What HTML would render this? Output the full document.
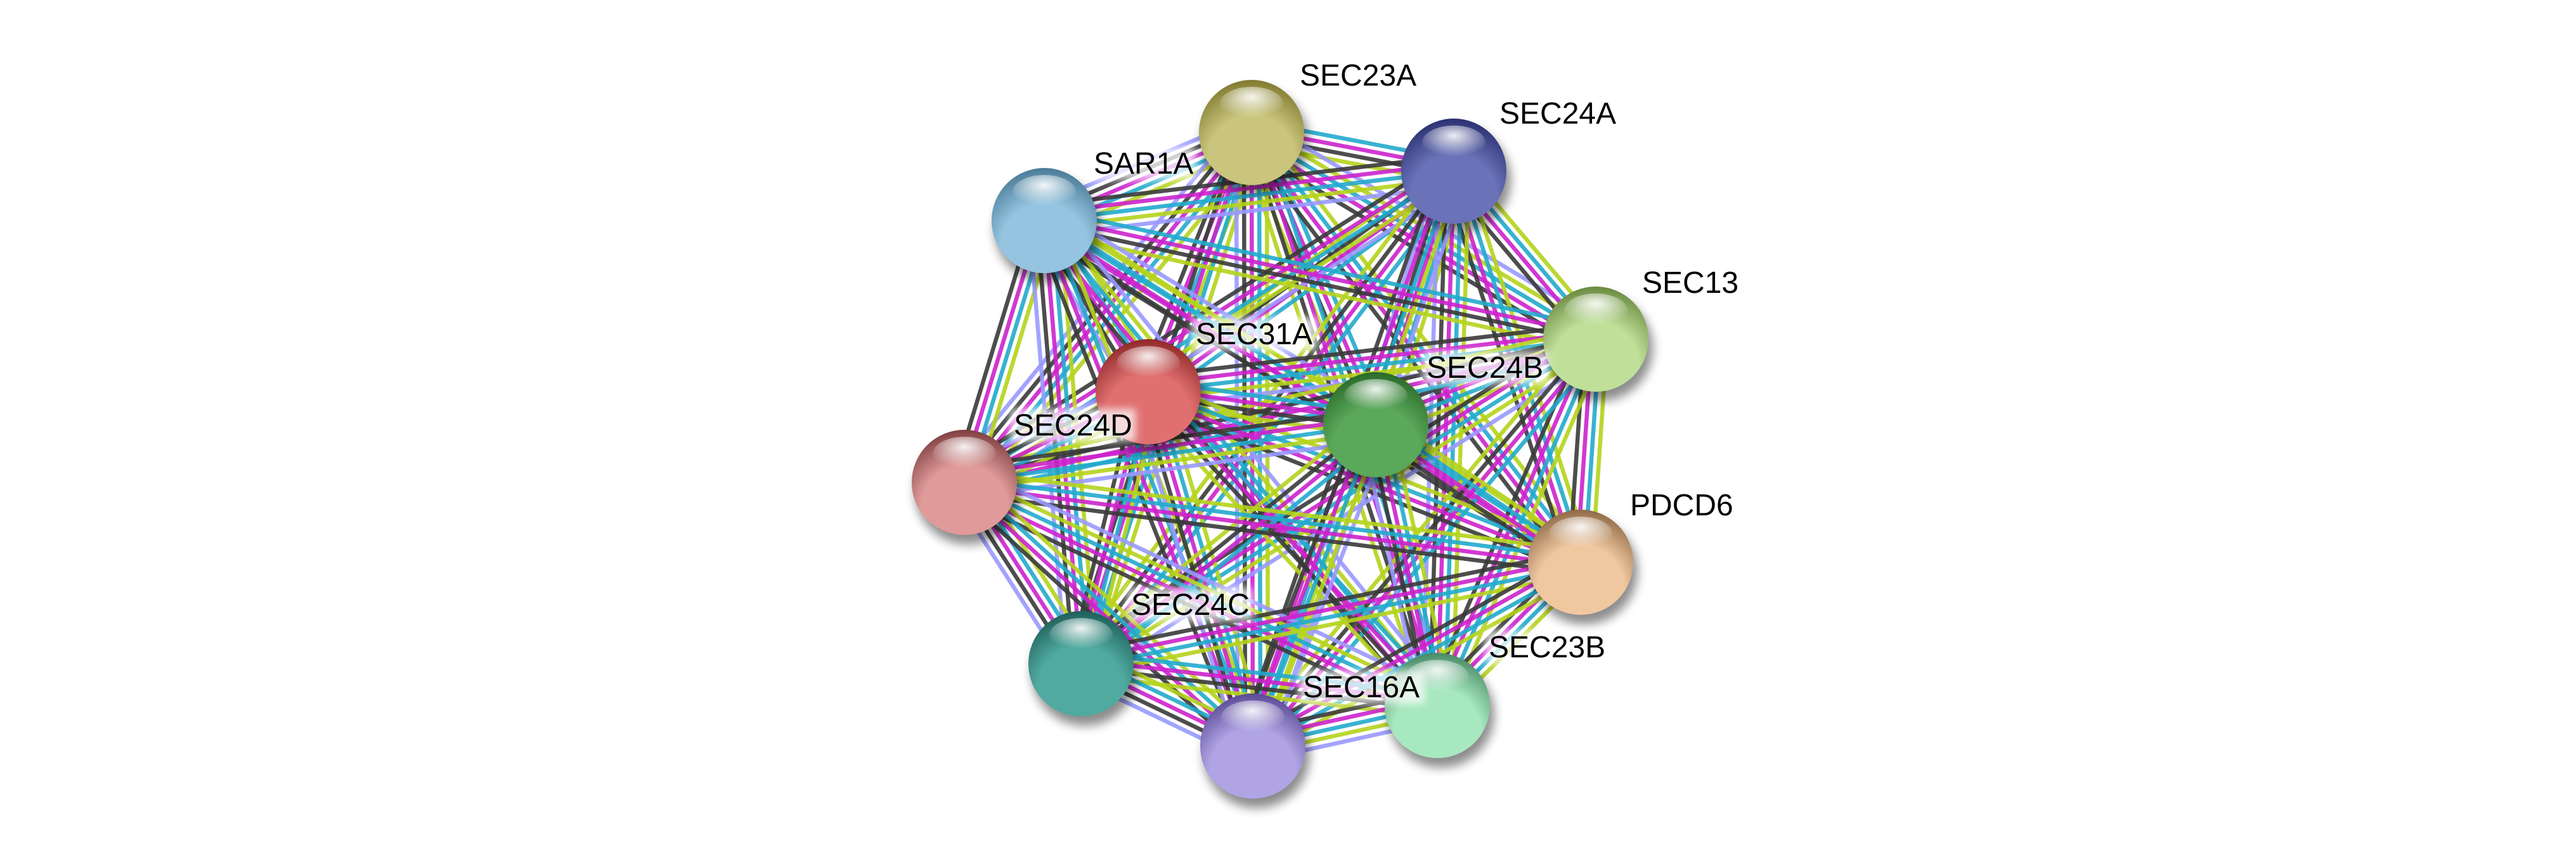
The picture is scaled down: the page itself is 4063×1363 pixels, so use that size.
<!DOCTYPE html>
<html><head><meta charset="utf-8"><style>
html,body{margin:0;padding:0;background:#fff;width:4063px;height:1363px;overflow:hidden}
svg{display:block}
text{font-family:"Liberation Sans",sans-serif;font-size:48px;fill:#000}
</style></head><body>
<svg id="s" width="4063" height="1363" xmlns="http://www.w3.org/2000/svg">
<defs>
<filter id="sh" x="-30%" y="-30%" width="170%" height="170%"><feGaussianBlur stdDeviation="8"/></filter>
<radialGradient id="hl" cx="50%" cy="30%" r="60%"><stop offset="0" stop-color="#fff" stop-opacity="0.9"/><stop offset="1" stop-color="#fff" stop-opacity="0"/></radialGradient>
<filter id="halo" x="-10%" y="-30%" width="120%" height="160%"><feGaussianBlur stdDeviation="6"/></filter>
</defs>
<g id="edges"></g>
<g id="nodes"></g>
<g id="labels"></g>
</svg>
<script>
var N={
SEC23A:[1974,209,'#c9c57c','#807a30'],
SEC24A:[2293,270,'#6a72b8','#2a3070'],
SAR1A:[1647,348,'#94c4e0','#4a7a96'],
SEC13:[2517,535,'#c0e09a','#6a8a40'],
SEC31A:[1811,618,'#e07070','#902828'],
SEC24B:[2170,670,'#5aa85a','#2a6a2a'],
SEC24D:[1521,761,'#e09a9a','#804040'],
PDCD6:[2493,887,'#f0c8a0','#906a48'],
SEC24C:[1705,1047,'#50aaa0','#1e605a'],
SEC23B:[2267,1113,'#a8e8c0','#4a8a66'],
SEC16A:[1976,1177,'#b0a4e4','#5a4a96']};
var L={SEC23A:[2050,135],SEC24A:[2365,195],SAR1A:[1725,274],SEC13:[2590,462],SEC31A:[1886,543],SEC24B:[2250,596],SEC24D:[1599,687],PDCD6:[2571,813],SEC24C:[1784,970],SEC23B:[2348,1037],SEC16A:[2055,1100]};
var C={y:'#b5d31c',c:'#22aacc',m:'#cc22cc',k:'#3a3a3a',l:'#9999ff'};
var names=Object.keys(N);
var ns='http://www.w3.org/2000/svg';
var E=document.getElementById('edges');
var sets=[['y','c','m','k'],['l','y','c','m','k'],['y','c','m','k','l'],['c','m','k','y']];
var h=0;
for(var i=0;i<names.length;i++)for(var j=i+1;j<names.length;j++){
 var a=N[names[i]],b=N[names[j]];
 h=(i*7+j*3)%4;
 var cols=sets[h];
 if(names[i]=='PDCD6'||names[j]=='PDCD6')cols=['y','c','m','k'];
 var dx=b[0]-a[0],dy=b[1]-a[1],len=Math.hypot(dx,dy),px=-dy/len,py=dx/len;
 var n=cols.length,sp=12;
 for(var k=0;k<n;k++){
  var o=(k-(n-1)/2)*sp;
  var l=document.createElementNS(ns,'line');
  l.setAttribute('x1',a[0]+px*o);l.setAttribute('y1',a[1]+py*o);
  l.setAttribute('x2',b[0]+px*o);l.setAttribute('y2',b[1]+py*o);
  l.setAttribute('stroke',C[cols[k]]);l.setAttribute('stroke-width',6.5);
  l.setAttribute('stroke-opacity',0.9);
  E.appendChild(l);
 }
}
var G=document.getElementById('nodes'),defs=document.querySelector('defs');
names.forEach(function(nm,i){
 var d=N[nm];
 var g=document.createElementNS(ns,'radialGradient');g.id='g'+i;
 g.setAttribute('cx','50%');g.setAttribute('cy','75%');g.setAttribute('r','75%');
 g.innerHTML='<stop offset="0" stop-color="'+d[2]+'"/><stop offset="0.55" stop-color="'+d[2]+'"/><stop offset="1" stop-color="'+d[3]+'"/>';
 defs.appendChild(g);
 G.innerHTML+='<circle cx="'+(d[0]+6)+'" cy="'+(d[1]+14)+'" r="84" fill="#000" opacity="0.45" filter="url(#sh)"/>'+
 '<circle cx="'+d[0]+'" cy="'+d[1]+'" r="83" fill="url(#g'+i+')"/>'+
 '<ellipse cx="'+d[0]+'" cy="'+(d[1]-45)+'" rx="50" ry="27" fill="url(#hl)"/>';
});
var T=document.getElementById('labels');
names.forEach(function(nm){
 var p=L[nm];var w=nm.length*31;
 T.innerHTML+='<rect x="'+(p[0]-6)+'" y="'+(p[1]-42)+'" width="'+(w+12)+'" height="52" fill="#fff" opacity="0.75" filter="url(#halo)"/>'+
 '<text x="'+p[0]+'" y="'+p[1]+'">'+nm+'</text>';
});
</script>
</body></html>
